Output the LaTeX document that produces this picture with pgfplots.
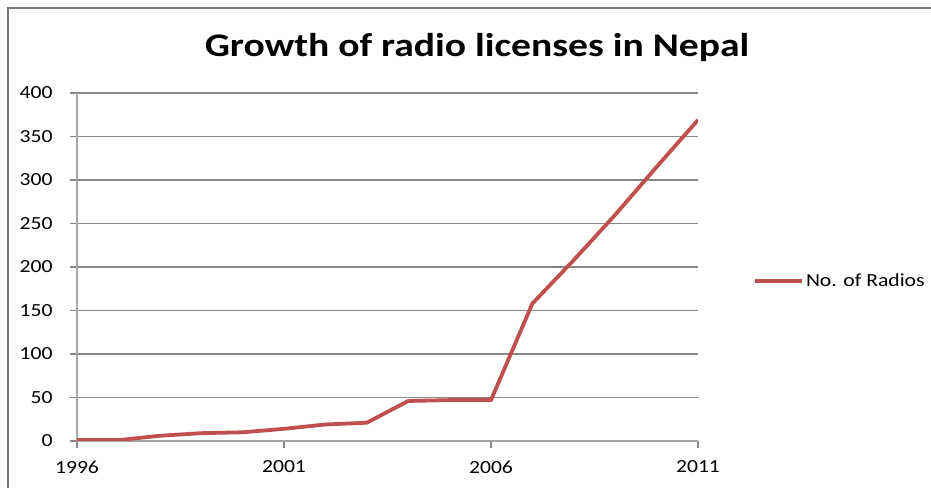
\documentclass[border=0pt]{standalone}
\usepackage{fontspec}
\setmainfont{Carlito}[FakeStretch=1.17]
\newfontfamily\titlefont{Carlito}[FakeStretch=1.2]
\usepackage{pgfplots}
\pgfplotsset{compat=1.18}
\definecolor{radio}{HTML}{C0504D}
\definecolor{gridc}{HTML}{878787}
\definecolor{axc}{HTML}{A6A6A6}
\begin{document}
\begin{tikzpicture}
\path[use as bounding box] (0,0) rectangle (931bp,488bp);
\draw[color=gridc!90!black, line width=2bp] (8bp,-2bp) -- (8bp,480bp) -- (933bp,480bp);
\node[font=\titlefont\bfseries\fontsize{33bp}{36bp}\selectfont] at (477bp,440bp) {Growth of radio licenses in Nepal};
\begin{axis}[
  at={(77bp,47bp)}, anchor=south west,
  scale only axis, width=621bp, height=348bp,
  xmin=1996, xmax=2011, ymin=0, ymax=400,
  xtick={1996,2001,2006,2011},
  ytick={0,50,...,400},
  axis x line*=bottom, axis y line*=left,
  axis line style={draw=axc, line width=1.3bp, -},
  ymajorgrids, grid style={draw=gridc, line width=1.1bp},
  tick align=outside, major tick length=7bp,
  tick style={draw=gridc, line width=1.1bp},
  every tick label/.append style={font=\fontsize{18.5bp}{20bp}\selectfont, text=black},
  /pgf/number format/assume math mode=true,
  /pgf/number format/set thousands separator={},
  yticklabel style={xshift=-14bp},
  xticklabel style={yshift=-9bp},
  legend style={at={(rel axis cs:1.0886,0.46)}, anchor=west, draw=none, fill=none,
    inner sep=0pt, font=\fontsize{18.5bp}{20bp}\selectfont, cells={anchor=west}},
  legend image code/.code={\draw[#1] (-2bp,0bp) -- (45bp,0bp);},
]
\addplot[color=radio, line width=3.8bp, line join=round] coordinates {
(1996,1) (1997,1) (1998,6) (1999,9) (2000,10) (2001,14) (2002,19) (2003,21)
(2004,46) (2005,47) (2006,47) (2007,158) (2008,208) (2009,260) (2010,315) (2011,369)};
\addlegendentry{No. of Radios}
\end{axis}
\end{tikzpicture}
\end{document}
